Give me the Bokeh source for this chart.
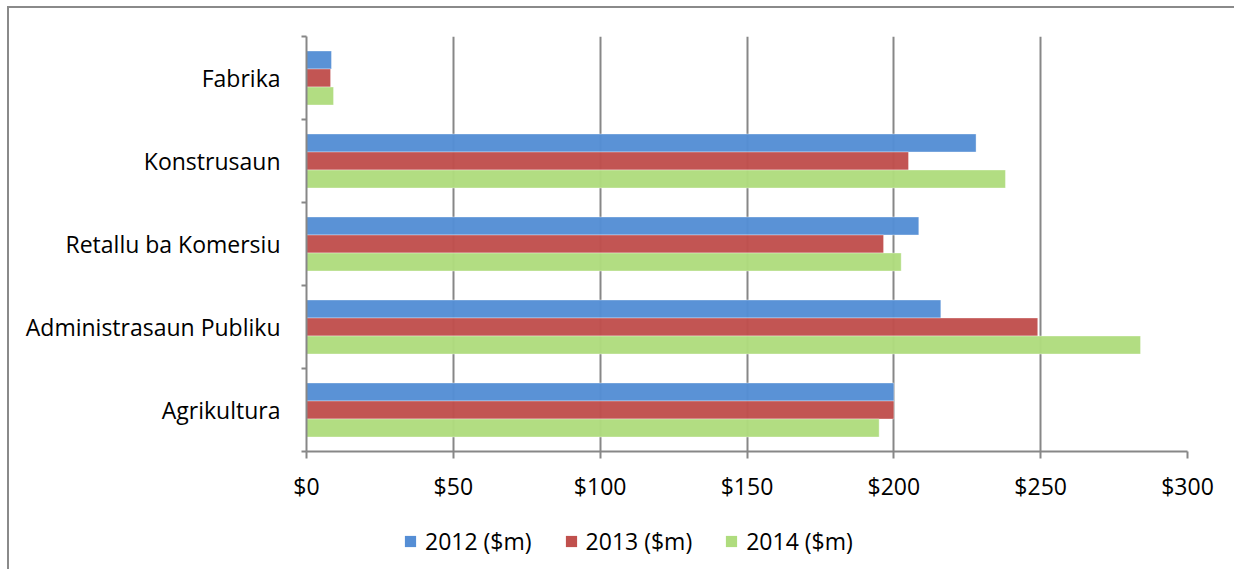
from bokeh.plotting import figure
from bokeh.models import ColumnDataSource, FixedTicker, NumeralTickFormatter, Legend, LegendItem
from bokeh.layouts import column
from bokeh.transform import dodge
from bokeh.embed import file_html
from bokeh.resources import INLINE

categories = ["Fabrika", "Konstrusaun", "Retallu ba Komersiu", "Administrasaun Publiku", "Agrikultura"]
series_names = ["2012 ($m)", "2013 ($m)", "2014 ($m)"]
v2012 = [8.5, 228, 208.5, 216, 200]
v2013 = [8.2, 205, 196.5, 249, 200]
v2014 = [9.2, 238, 202.5, 284, 195]
colors = ["#558ED5", "#C0504D", "#AFDC7E"]
x_ticks = [0, 50, 100, 150, 200, 250, 300]

n = len(categories)
order = list(reversed(categories))
ypos = {c: i + 0.5 for i, c in enumerate(order)}
src = ColumnDataSource(dict(
    cat=categories,
    y=[ypos[c] for c in categories],
    s0=v2012, s1=v2013, s2=v2014,
))

FONT = "Open Sans"
FS = "23px"
GRAY = "#878787"
W = 1234
H1 = 509
H2 = 60

p = figure(width=W, height=H1, output_backend="svg", toolbar_location=None,
           x_range=(0, 300), y_range=(0, n),
           min_border_left=306, min_border_right=W - 306 - 881, min_border_top=36, min_border_bottom=H1 - 36 - 415)
p.outline_line_color = None
p.border_fill_color = None

bh = 0.217
offsets = [bh, 0, -bh]
cols = ["s0", "s1", "s2"]
for k in range(3):
    p.hbar(y=dodge("y", offsets[k]), right=cols[k], left=0, height=bh, source=src,
           fill_color=colors[k], line_color="white", line_alpha=0.35, line_width=1,
           fill_alpha=0.97)

p.xaxis.ticker = FixedTicker(ticks=x_ticks, minor_ticks=[])
p.xaxis.formatter = NumeralTickFormatter(format="$0")
p.xaxis.axis_line_color = GRAY
p.xaxis.axis_line_width = 2
p.xaxis.major_tick_line_color = GRAY
p.xaxis.major_tick_line_width = 2
p.xaxis.major_tick_out = 7
p.xaxis.major_tick_in = 0
p.xaxis.minor_tick_line_color = None
p.xaxis.major_label_text_font = FONT
p.xaxis.major_label_text_font_size = FS
p.xaxis.major_label_text_color = "#000000"
p.xaxis.major_label_standoff = 11

centers = [i + 0.5 for i in range(n)]
bounds = [float(i) for i in range(n + 1)]
p.yaxis.ticker = FixedTicker(ticks=centers, minor_ticks=bounds)
p.yaxis.major_label_overrides = {c: order[i] for i, c in enumerate(centers)}
p.yaxis.axis_line_color = GRAY
p.yaxis.axis_line_width = 2
p.yaxis.major_tick_line_color = None
p.yaxis.major_tick_out = 0
p.yaxis.major_tick_in = 0
p.yaxis.minor_tick_line_color = GRAY
p.yaxis.minor_tick_line_width = 2
p.yaxis.minor_tick_out = 5
p.yaxis.minor_tick_in = 0
p.yaxis.major_label_text_font = FONT
p.yaxis.major_label_text_font_size = FS
p.yaxis.major_label_text_color = "#000000"
p.yaxis.major_label_standoff = 21

p.ygrid.grid_line_color = None
p.xgrid.grid_line_color = GRAY
p.xgrid.grid_line_width = 2
p.xgrid.ticker = FixedTicker(ticks=x_ticks)

# legend strip (its frame is aligned with the main frame by the column layout)
p2 = figure(width=W, height=H2, output_backend="svg", toolbar_location=None,
            x_range=(1000, 1001), y_range=(1000, 1001),
            min_border_left=0, min_border_right=0, min_border_top=0, min_border_bottom=0)
p2.axis.visible = False
p2.grid.grid_line_color = None
p2.outline_line_color = None
p2.border_fill_color = None
p2.background_fill_color = None
leg_r = []
for k in range(3):
    leg_r.append(p2.hbar(y="y", right=cols[k], left=0, height=bh, source=src,
                         fill_color=colors[k], line_color=None))

legend = Legend(items=[LegendItem(label=series_names[k], renderers=[leg_r[k]]) for k in range(3)],
                orientation="horizontal", location=(97, 12))
legend.border_line_color = None
legend.background_fill_alpha = 0
legend.label_text_font = FONT
legend.label_text_font_size = FS
legend.label_text_color = "#000000"
legend.glyph_width = 14
legend.glyph_height = 14
legend.label_standoff = 8
legend.spacing = 32
legend.margin = 0
legend.padding = 0
p2.add_layout(legend, "center")

layout = column(p, p2, spacing=0)
layout.styles = {
    "background": "linear-gradient(#8a8a8a,#8a8a8a) 7px 6px / 2px 100% no-repeat, "
                  "linear-gradient(#8a8a8a,#8a8a8a) 7px 6px / 100% 2px no-repeat, #ffffff"
}

open("out.html", "w").write(file_html(layout, INLINE))
